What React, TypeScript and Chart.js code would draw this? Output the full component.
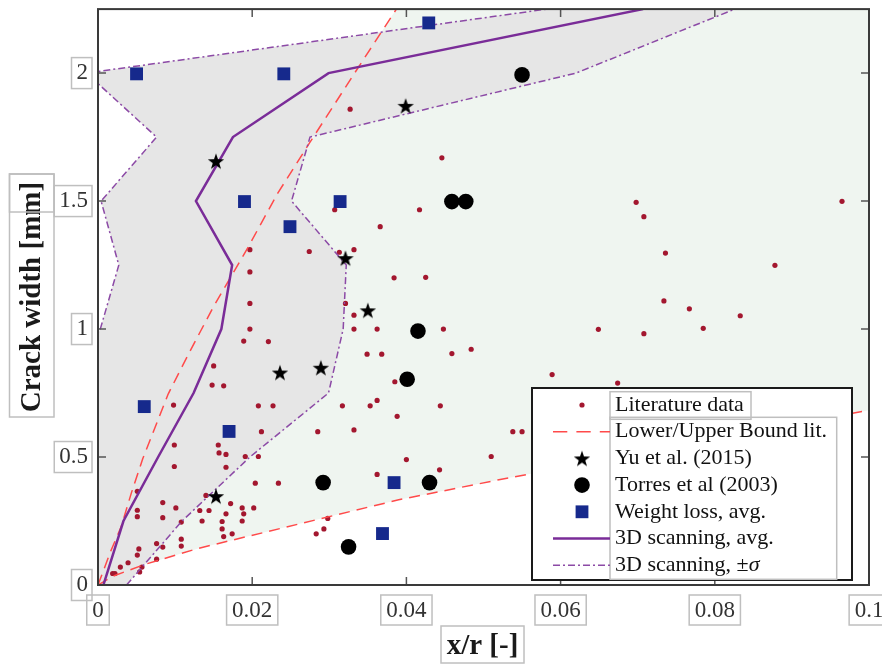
import { useEffect, useRef } from 'react';
import { Chart, registerables } from 'chart.js';

Chart.register(...registerables);

type P = [number, number];

// ---------- axes ----------
const X_MIN = 0;
const X_MAX = 0.1;
const Y_MIN = 0;
const Y_MAX = 2.25;
const xTickValues = [0, 0.02, 0.04, 0.06, 0.08, 0.1];
const xTickLabels = ['0', '0.02', '0.04', '0.06', '0.08', '0.1'];
const yTickValues = [0, 0.5, 1, 1.5, 2];
const yTickLabels = ['0', '0.5', '1', '1.5', '2'];
const xTitle = 'x/r [-]';
const yTitle = 'Crack width [mm]';

const legendLabels = [
  'Literature data',
  'Lower/Upper Bound lit.',
  'Yu et al. (2015)',
  'Torres et al (2003)',
  'Weight loss, avg.',
  '3D scanning, avg.',
  '3D scanning, \u00b1\u03c3',
];

// ---------- data ----------
const literatureData: P[] = [
  [0.0327, 1.859], [0.0446, 1.669], [0.0307, 1.466], [0.0417, 1.466], [0.0366, 1.4],
  [0.0197, 1.31], [0.0274, 1.303], [0.0313, 1.3], [0.0332, 1.31], [0.0197, 1.223],
  [0.0384, 1.2], [0.0425, 1.202], [0.0197, 1.1], [0.0321, 1.1], [0.0332, 1.054],
  [0.0197, 1.0], [0.0332, 1.0], [0.0362, 1.0], [0.0448, 1.0], [0.0189, 0.953],
  [0.0221, 0.951], [0.0349, 0.902], [0.0368, 0.902], [0.0459, 0.904], [0.0484, 0.921],
  [0.015, 0.856], [0.0148, 0.781], [0.0163, 0.778], [0.0385, 0.794], [0.0098, 0.703],
  [0.0208, 0.7], [0.0227, 0.7], [0.0317, 0.7], [0.0353, 0.7], [0.0362, 0.721],
  [0.0444, 0.7], [0.0388, 0.659], [0.0212, 0.599], [0.0285, 0.599], [0.0332, 0.606],
  [0.0099, 0.547], [0.0156, 0.547], [0.0157, 0.516], [0.0166, 0.51], [0.0191, 0.502],
  [0.0208, 0.502], [0.04, 0.49], [0.0099, 0.463], [0.0166, 0.46], [0.0362, 0.432],
  [0.0443, 0.45], [0.0204, 0.398], [0.0234, 0.398], [0.0051, 0.366], [0.014, 0.35],
  [0.0084, 0.322], [0.0172, 0.318], [0.0101, 0.301], [0.0187, 0.301], [0.0202, 0.301],
  [0.0051, 0.292], [0.0132, 0.291], [0.0144, 0.291], [0.0166, 0.278], [0.0189, 0.278],
  [0.0051, 0.267], [0.0084, 0.263], [0.0108, 0.246], [0.0135, 0.25], [0.0161, 0.248],
  [0.0187, 0.25], [0.0298, 0.26], [0.0293, 0.219], [0.0283, 0.2], [0.0161, 0.219],
  [0.0163, 0.189], [0.0174, 0.2], [0.0108, 0.179], [0.0108, 0.152], [0.0084, 0.148],
  [0.0076, 0.162], [0.0053, 0.141], [0.0051, 0.117], [0.0076, 0.101], [0.0039, 0.087],
  [0.0029, 0.07], [0.0057, 0.07], [0.0054, 0.051], [0.0019, 0.045], [0.0022, 0.045],
  [0.051, 0.502], [0.0538, 0.599], [0.055, 0.599], [0.0589, 0.822], [0.0674, 0.789],
  [0.0649, 0.999], [0.0708, 0.982], [0.0785, 1.003], [0.0734, 1.11], [0.0767, 1.079],
  [0.0833, 1.052], [0.0736, 1.297], [0.0878, 1.249], [0.0698, 1.495], [0.0708, 1.439],
  [0.0965, 1.499],
];

const upperBoundLit: P[] = [
  [0, 0], [0.0017, 0.136], [0.003, 0.227], [0.0043, 0.357], [0.0058, 0.493],
  [0.0091, 0.746], [0.0117, 0.9], [0.0149, 1.083], [0.0194, 1.316], [0.0233, 1.53],
  [0.0275, 1.73], [0.0335, 2.01], [0.0387, 2.25],
];
const lowerBoundLit: P[] = [
  [0, 0], [0.002, 0.035], [0.006, 0.08], [0.013, 0.143], [0.026, 0.238],
  [0.039, 0.333], [0.052, 0.411], [0.1, 0.683],
];

const yuData: P[] = [
  [0.0153, 1.656], [0.0399, 1.872], [0.0321, 1.277], [0.035, 1.073],
  [0.0236, 0.83], [0.0289, 0.849], [0.0153, 0.347],
];

const torresData: P[] = [
  [0.055, 1.993], [0.0459, 1.498], [0.0477, 1.498], [0.0415, 0.992],
  [0.0401, 0.804], [0.0292, 0.4], [0.043, 0.4], [0.0325, 0.149],
];

const weightLossData: P[] = [
  [0.005, 1.997], [0.0241, 1.997], [0.0429, 2.196], [0.019, 1.498], [0.0314, 1.498],
  [0.0249, 1.4], [0.006, 0.697], [0.017, 0.6], [0.0384, 0.4], [0.0369, 0.201],
];

const scanLevels = [0, 0.25, 0.5, 0.75, 1.0, 1.25, 1.5, 1.75, 2.0, 2.25];
const scanAvg = [0.0007, 0.0033, 0.0078, 0.0124, 0.016, 0.0174, 0.0127, 0.0175, 0.0299, 0.0707];
const scanMinusSigma = [-0.0023, -0.0043, -0.004, -0.005, 0.0003, 0.0027, 0.0004, 0.0076, -0.0015, 0.0582];
const scanPlusSigma = [0.0037, 0.0109, 0.0197, 0.0299, 0.0318, 0.0322, 0.0251, 0.0275, 0.062, 0.0826];

// ---------- styles ----------
const C_LIT = '#a3172f';
const C_BOUND = '#ff4a4a';
const C_SQUARE = '#16298c';
const C_AVG = '#7a2c98';
const C_SIGMA = '#8c4aa6';
const C_GREEN = '#eff5f0';
const C_GRAY = '#e6e6e6';
const C_BOX = '#bfbfbf';
const FONT = '"Liberation Serif", "DejaVu Serif", serif';
const DASH_BOUND = [11, 7];
const DASH_SIGMA = [7, 3, 2, 3];

function toXY(pts: P[]) {
  return pts.map(([x, y]) => ({ x, y }));
}
function levelsToXY(xs: number[]) {
  return scanLevels.map((y, i) => ({ x: xs[i], y }));
}

function makeStar(R: number, r: number, color: string) {
  const size = Math.ceil(R * 2 + 4);
  const c = document.createElement('canvas');
  c.width = size;
  c.height = size;
  const g = c.getContext('2d')!;
  g.fillStyle = color;
  g.beginPath();
  for (let i = 0; i < 10; i++) {
    const rad = i % 2 === 0 ? R : r;
    const a = -Math.PI / 2 + (i * Math.PI) / 5;
    const px = size / 2 + rad * Math.cos(a);
    const py = size / 2 + rad * Math.sin(a) + R * 0.1;
    if (i === 0) g.moveTo(px, py);
    else g.lineTo(px, py);
  }
  g.closePath();
  g.fill();
  return c;
}

export default function App() {
  const ref = useRef<HTMLCanvasElement | null>(null);

  useEffect(() => {
    const canvas = ref.current;
    if (!canvas) return;
    const star = makeStar(8.6, 3.4, '#000');

    const boxRect = (ctx: CanvasRenderingContext2D, x0: number, y0: number, x1: number, y1: number) => {
      ctx.save();
      ctx.strokeStyle = C_BOX;
      ctx.lineWidth = 1.5;
      ctx.strokeRect(x0, y0, x1 - x0, y1 - y0);
      ctx.restore();
    };

    const bgPlugin = {
      id: 'bands',
      beforeDatasetsDraw(chart: any) {
        const { ctx, chartArea: ca, scales } = chart;
        const xs = scales.x;
        const ys = scales.y;
        const poly = (pts: P[], color: string) => {
          ctx.beginPath();
          pts.forEach(([x, y], i) => {
            const px = xs.getPixelForValue(x);
            const py = ys.getPixelForValue(y);
            if (i === 0) ctx.moveTo(px, py);
            else ctx.lineTo(px, py);
          });
          ctx.closePath();
          ctx.fillStyle = color;
          ctx.fill();
        };
        ctx.save();
        ctx.beginPath();
        ctx.rect(ca.left, ca.top, ca.right - ca.left, ca.bottom - ca.top);
        ctx.clip();
        poly([...upperBoundLit, [X_MAX, Y_MAX], ...[...lowerBoundLit].reverse()], C_GREEN);
        const left: P[] = scanLevels.map((y, i) => [scanMinusSigma[i], y]);
        const right: P[] = scanLevels.map((y, i) => [scanPlusSigma[i], y]);
        poly([...left, ...right.reverse()], C_GRAY);
        ctx.restore();
      },
      afterDraw(chart: any) {
        const { ctx, chartArea: ca, scales } = chart;
        const xs = scales.x;
        const ys = scales.y;
        ctx.save();
        // ticks inside
        ctx.strokeStyle = '#555';
        ctx.lineWidth = 1.5;
        const TL = 8;
        xTickValues.forEach((v) => {
          const px = xs.getPixelForValue(v);
          ctx.beginPath();
          ctx.moveTo(px, ca.bottom);
          ctx.lineTo(px, ca.bottom - TL);
          ctx.moveTo(px, ca.top);
          ctx.lineTo(px, ca.top + TL);
          ctx.stroke();
        });
        yTickValues.forEach((v) => {
          const py = ys.getPixelForValue(v);
          ctx.beginPath();
          ctx.moveTo(ca.left, py);
          ctx.lineTo(ca.left + TL, py);
          ctx.moveTo(ca.right, py);
          ctx.lineTo(ca.right - TL, py);
          ctx.stroke();
        });

        // legend
        const L = ca.right - 337;
        const T = ca.bottom - 197;
        const W = 320;
        const H = 192;
        ctx.fillStyle = '#fff';
        ctx.fillRect(L, T, W, H);
        ctx.strokeStyle = '#1a1a1a';
        ctx.lineWidth = 2;
        ctx.strokeRect(L, T, W, H);
        boxRect(ctx, L + 78, T + 3.7, L + 219, T + 31.3);
        boxRect(ctx, L + 78, T + 29.3, L + 304.7, T + 191.3);
        const sx = L + 50;
        const lx0 = L + 21;
        const lx1 = L + 78;
        const tx = L + 83;
        ctx.font = `22px ${FONT}`;
        ctx.textBaseline = 'middle';
        ctx.textAlign = 'left';
        legendLabels.forEach((label, i) => {
          const cy = T + 17 + i * 26.7;
          ctx.save();
          if (i === 0) {
            ctx.fillStyle = C_LIT;
            ctx.beginPath();
            ctx.arc(sx, cy, 2.6, 0, Math.PI * 2);
            ctx.fill();
          } else if (i === 1) {
            ctx.strokeStyle = C_BOUND;
            ctx.lineWidth = 1.5;
            ctx.setLineDash(DASH_BOUND.map((d) => d * 1.3));
            ctx.beginPath();
            ctx.moveTo(lx0, cy);
            ctx.lineTo(lx1, cy);
            ctx.stroke();
          } else if (i === 2) {
            ctx.drawImage(star, sx - star.width / 2, cy - star.height / 2);
          } else if (i === 3) {
            ctx.fillStyle = '#000';
            ctx.beginPath();
            ctx.arc(sx, cy, 7.8, 0, Math.PI * 2);
            ctx.fill();
          } else if (i === 4) {
            ctx.fillStyle = C_SQUARE;
            ctx.fillRect(sx - 6.4, cy - 6.4, 12.8, 12.8);
          } else if (i === 5) {
            ctx.strokeStyle = C_AVG;
            ctx.lineWidth = 2.5;
            ctx.beginPath();
            ctx.moveTo(lx0, cy);
            ctx.lineTo(lx1, cy);
            ctx.stroke();
          } else {
            ctx.strokeStyle = C_SIGMA;
            ctx.lineWidth = 1.5;
            ctx.setLineDash(DASH_SIGMA);
            ctx.beginPath();
            ctx.moveTo(lx0, cy);
            ctx.lineTo(lx1, cy);
            ctx.stroke();
          }
          ctx.restore();
          ctx.fillStyle = '#111';
          if (label.endsWith('\u03c3')) {
            const head = label.slice(0, -1);
            ctx.font = `22px ${FONT}`;
            ctx.fillText(head, tx, cy);
            const w = ctx.measureText(head).width;
            ctx.font = `italic 22px ${FONT}`;
            ctx.fillText('\u03c3', tx + w, cy);
            ctx.font = `22px ${FONT}`;
          } else {
            ctx.fillText(label, tx, cy);
          }
        });

        // plot frame
        ctx.strokeStyle = '#3a3a3a';
        ctx.lineWidth = 2;
        ctx.strokeRect(ca.left, ca.top, ca.right - ca.left, ca.bottom - ca.top);

        // tick labels
        ctx.font = `23px ${FONT}`;
        ctx.fillStyle = '#333';
        ctx.textBaseline = 'middle';
        const PADX = 5;
        yTickValues.forEach((v, i) => {
          const py = ys.getPixelForValue(v);
          const label = yTickLabels[i];
          const w = ctx.measureText(label).width;
          const xr = ca.left - 10;
          ctx.textAlign = 'right';
          ctx.fillText(label, xr, py);
          boxRect(ctx, xr - w - PADX, py - 15.5, xr + PADX - 1, py + 15.5);
        });
        xTickValues.forEach((v, i) => {
          const px = xs.getPixelForValue(v);
          const label = xTickLabels[i];
          const w = ctx.measureText(label).width;
          const cy = ca.bottom + 25.5;
          ctx.textAlign = 'center';
          ctx.fillText(label, px, cy);
          boxRect(ctx, px - w / 2 - PADX - 0.5, cy - 15.5, px + w / 2 + PADX + 0.5, cy + 14.5);
        });

        // axis titles
        ctx.fillStyle = '#1a1a1a';
        ctx.font = `bold 29px ${FONT}`;
        ctx.textAlign = 'center';
        ctx.textBaseline = 'middle';
        const xtCx = (ca.left + ca.right) / 2 - 1;
        const xtCy = ca.bottom + 62;
        ctx.fillText(xTitle, xtCx, xtCy);
        boxRect(ctx, 441, 626, 524, 663);
        ctx.save();
        const ytCx = 33;
        const ytCy = (ca.top + ca.bottom) / 2;
        ctx.translate(ytCx, ytCy);
        ctx.rotate(-Math.PI / 2);
        ctx.fillText(yTitle, 0, 0);
        ctx.restore();
        boxRect(ctx, 9.5, 174, 54, 417);
        boxRect(ctx, 9.5, 174, 54, 212);
        ctx.restore();
      },
    };

    const chart = new Chart(canvas, {
      type: 'scatter',
      data: {
        datasets: [
          {
            label: legendLabels[2],
            data: toXY(yuData),
            pointStyle: star as any,
            pointRadius: 8,
            order: 1,
          },
          {
            label: legendLabels[3],
            data: toXY(torresData),
            pointStyle: 'circle',
            pointRadius: 7.8,
            pointBorderWidth: 0,
            backgroundColor: '#000',
            borderColor: '#000',
            order: 2,
          },
          {
            label: legendLabels[4],
            data: toXY(weightLossData),
            pointStyle: 'rect',
            pointRadius: 9.1,
            pointBorderWidth: 0,
            backgroundColor: C_SQUARE,
            borderColor: C_SQUARE,
            order: 3,
          },
          {
            label: legendLabels[5],
            data: levelsToXY(scanAvg),
            showLine: true,
            borderColor: C_AVG,
            borderWidth: 2.5,
            pointRadius: 0,
            order: 4,
          },
          {
            label: legendLabels[6],
            data: levelsToXY(scanMinusSigma),
            showLine: true,
            borderColor: C_SIGMA,
            borderWidth: 1.5,
            borderDash: DASH_SIGMA,
            pointRadius: 0,
            order: 5,
          },
          {
            label: legendLabels[6] + ' (+)',
            data: levelsToXY(scanPlusSigma),
            showLine: true,
            borderColor: C_SIGMA,
            borderWidth: 1.5,
            borderDash: DASH_SIGMA,
            pointRadius: 0,
            order: 5,
          },
          {
            label: legendLabels[1],
            data: toXY(upperBoundLit),
            showLine: true,
            borderColor: C_BOUND,
            borderWidth: 1.5,
            borderDash: DASH_BOUND,
            pointRadius: 0,
            order: 6,
          },
          {
            label: legendLabels[1] + ' (lower)',
            data: toXY(lowerBoundLit),
            showLine: true,
            borderColor: C_BOUND,
            borderWidth: 1.5,
            borderDash: DASH_BOUND,
            pointRadius: 0,
            order: 6,
          },
          {
            label: legendLabels[0],
            data: toXY(literatureData),
            pointStyle: 'circle',
            pointRadius: 2.6,
            pointBorderWidth: 0,
            backgroundColor: C_LIT,
            borderColor: C_LIT,
            order: 7,
          },
        ],
      },
      options: {
        animation: false,
        responsive: false,
        events: [],
        layout: { padding: { top: 7, right: 13, left: 0, bottom: 0 } },
        plugins: {
          legend: { display: false },
          tooltip: { enabled: false },
        },
        scales: {
          x: {
            type: 'linear',
            min: X_MIN,
            max: X_MAX,
            grid: { display: false },
            border: { display: false },
            ticks: { display: false },
            afterFit: (s: any) => {
              s.height = 81;
            },
          },
          y: {
            type: 'linear',
            min: Y_MIN,
            max: Y_MAX,
            grid: { display: false },
            border: { display: false },
            ticks: { display: false },
            afterFit: (s: any) => {
              s.width = 98;
            },
          },
        },
      },
      plugins: [bgPlugin],
    });
    return () => chart.destroy();
  }, []);

  return (
    <div style={{ position: 'fixed', left: 0, top: 0, width: 882, height: 666, background: '#fff' }}>
      <canvas ref={ref} width={882} height={666} style={{ display: 'block' }} />
    </div>
  );
}
